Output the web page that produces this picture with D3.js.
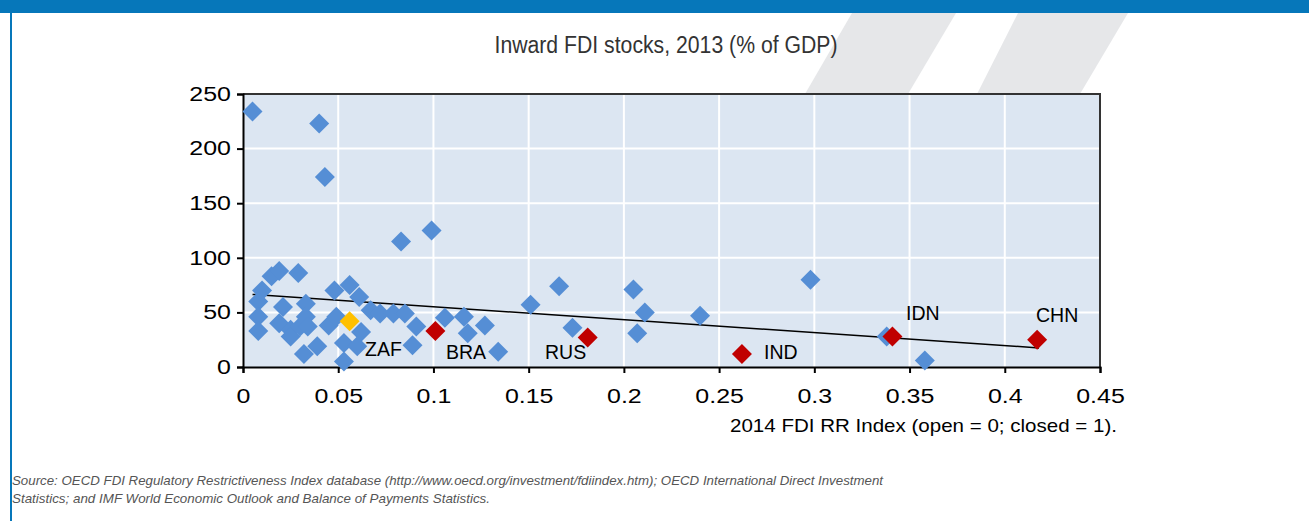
<!DOCTYPE html>
<html>
<head>
<meta charset="utf-8">
<script src="https://cdn.jsdelivr.net/npm/d3@7"></script>
<style>
  html, body { margin: 0; padding: 0; background: #fff; }
  svg { display: block; }
</style>
</head>
<body>
<div id="chart"></div>
<script>
// ── Inward FDI stocks vs FDI restrictiveness ──

// 2014 FDI RR index (x) and inward FDI stock, % of GDP (y)
const otherCountries = [
  [0.005, 234], [0.040, 223], [0.043, 174], [0.083, 115], [0.099, 125],
  [0.015, 83], [0.019, 88], [0.029, 86], [0.010, 70],
  [0.008, 60], [0.008, 46], [0.008, 33],
  [0.021, 55], [0.019, 40], [0.025, 34], [0.025, 28], [0.030, 37],
  [0.033, 58], [0.033, 46], [0.034, 37], [0.032, 12], [0.039, 19],
  [0.045, 38], [0.049, 46], [0.048, 70], [0.056, 75], [0.061, 64],
  [0.062, 32], [0.053, 22], [0.060, 19], [0.053, 5],
  [0.067, 52], [0.072, 49], [0.079, 49], [0.085, 49], [0.091, 37], [0.089, 20],
  [0.106, 45], [0.116, 46], [0.118, 31], [0.127, 38], [0.134, 14],
  [0.151, 57], [0.166, 74], [0.173, 36], [0.205, 71], [0.211, 50], [0.207, 31],
  [0.240, 47], [0.298, 80], [0.338, 28], [0.358, 6],
]

const brics = [
  { code: 'BRA', x: 0.101, y: 33 },
  { code: 'RUS', x: 0.181, y: 27 },
  { code: 'IND', x: 0.262, y: 12 },
  { code: 'IDN', x: 0.341, y: 28 },
  { code: 'CHN', x: 0.417, y: 25 },
]
const southAfrica = { code: 'ZAF', x: 0.056, y: 42 }

// fitted trend line, end points
const trend = [[0.005, 66.5], [0.418, 17.5]]

const xTicks = [0, 0.05, 0.1, 0.15, 0.2, 0.25, 0.3, 0.35, 0.4, 0.45]
const xTickLabels = ['0', '0.05', '0.1', '0.15', '0.2', '0.25', '0.3', '0.35', '0.4', '0.45']
const yTicks = [0, 50, 100, 150, 200, 250]

const title = 'Inward FDI stocks, 2013 (% of GDP)'
const xTitle = '2014 FDI RR Index (open = 0; closed = 1).'
const source = [
  'Source: OECD FDI Regulatory Restrictiveness Index database (http://www.oecd.org/investment/fdiindex.htm); OECD International Direct Investment',
  'Statistics; and IMF World Economic Outlook and Balance of Payments Statistics.',
]

const width = 1309, height = 521
const plot = { left: 243, right: 1100, top: 94, bottom: 367 }
const blue = '#0677BA'
const font = '"Liberation Sans", Arial, sans-serif'
const narrow = '"Liberation Sans Narrow", "Liberation Sans", sans-serif'

const svg = d3.select('#chart').append('svg')
  .attr('width', width)
  .attr('height', height)

// frame: top band and left rule
svg.append('rect').attr('x', 0).attr('y', 0).attr('width', width).attr('height', 13).attr('fill', blue)
svg.append('rect').attr('x', 10).attr('y', 0).attr('width', 2).attr('height', height).attr('fill', blue)

// decorative slanted stripes behind the title
const stripes = [
  [[852, 13], [956, 13], [908, 94], [805, 94]],
  [[1018, 13], [1128, 13], [1080, 94], [977, 94]],
]
svg.selectAll('polygon.stripe')
  .data(stripes)
  .join('polygon')
  .attr('class', 'stripe')
  .attr('points', d => d.map(p => p.join(',')).join(' '))
  .attr('fill', '#E6E7E9')

svg.append('text')
  .attr('x', 666)
  .attr('y', 53)
  .attr('text-anchor', 'middle')
  .attr('font-family', narrow)
  .attr('font-size', 23)
  .attr('fill', '#333')
  .attr('textLength', 343)
  .attr('lengthAdjust', 'spacingAndGlyphs')
  .text(title)

const x = d3.scaleLinear().domain([0, 0.45]).range([plot.left, plot.right])
const y = d3.scaleLinear().domain([0, 250]).range([plot.bottom, plot.top])

svg.append('rect')
  .attr('x', plot.left).attr('y', plot.top)
  .attr('width', plot.right - plot.left).attr('height', plot.bottom - plot.top)
  .attr('fill', '#DCE6F2')

// gridlines
svg.append('g').selectAll('line')
  .data(xTicks.slice(1, -1))
  .join('line')
  .attr('x1', d => x(d)).attr('x2', d => x(d))
  .attr('y1', plot.top).attr('y2', plot.bottom)
  .attr('stroke', '#fff').attr('stroke-width', 2)
svg.append('g').selectAll('line')
  .data(yTicks.slice(1, -1))
  .join('line')
  .attr('y1', d => y(d)).attr('y2', d => y(d))
  .attr('x1', plot.left).attr('x2', plot.right)
  .attr('stroke', '#fff').attr('stroke-width', 2)

// top and right border
svg.append('path')
  .attr('d', `M${plot.left},${plot.top}H${plot.right}V${plot.bottom}`)
  .attr('fill', 'none').attr('stroke', '#333').attr('stroke-width', 2)

// axes
const yAxis = svg.append('g')
  .attr('transform', `translate(${plot.left},0)`)
  .call(d3.axisLeft(y).tickValues(yTicks).tickSize(6).tickPadding(6))
const xAxis = svg.append('g')
  .attr('transform', `translate(0,${plot.bottom})`)
  .call(d3.axisBottom(x).tickValues(xTicks).tickFormat((d, i) => xTickLabels[i]).tickSize(6).tickPadding(16))

for (const ax of [xAxis, yAxis]) {
  ax.select('.domain').attr('stroke', '#000').attr('stroke-width', 2)
  ax.selectAll('.tick line').attr('stroke', '#000').attr('stroke-width', 2)
  ax.selectAll('.tick text')
    .attr('font-family', font)
    .attr('font-size', 19.5)
    .attr('fill', '#000')
  ax.attr('font-family', null).attr('font-size', null)
}
// the tick labels are drawn wide in the original
svg.selectAll('.tick text').each(function () {
  const w = this.getComputedTextLength()
  this.setAttribute('textLength', w * 1.28)
  this.setAttribute('lengthAdjust', 'spacingAndGlyphs')
})

svg.append('text')
  .attr('x', 1117)
  .attr('y', 432)
  .attr('text-anchor', 'end')
  .attr('font-family', font)
  .attr('font-size', 19)
  .attr('fill', '#000')
  .attr('textLength', 387)
  .attr('lengthAdjust', 'spacingAndGlyphs')
  .text(xTitle)

// trend line
svg.append('line')
  .attr('x1', x(trend[0][0])).attr('y1', y(trend[0][1]))
  .attr('x2', x(trend[1][0])).attr('y2', y(trend[1][1]))
  .attr('stroke', '#000').attr('stroke-width', 1.5)

const diamond = 'M0,-10L10,0L0,10L-10,0Z'

svg.append('g').selectAll('path')
  .data(otherCountries)
  .join('path')
  .attr('d', diamond)
  .attr('transform', d => `translate(${x(d[0])},${y(d[1])})`)
  .attr('fill', '#558ED5')

svg.append('path')
  .attr('d', diamond)
  .attr('transform', `translate(${x(southAfrica.x)},${y(southAfrica.y)})`)
  .attr('fill', '#FFC000')

svg.append('g').selectAll('path')
  .data(brics)
  .join('path')
  .attr('d', diamond)
  .attr('transform', d => `translate(${x(d.x)},${y(d.y)})`)
  .attr('fill', '#C00000')

// country labels
const labelPos = {
  ZAF: [365, 356], BRA: [446, 359], RUS: [545, 359], IND: [764, 359], IDN: [906, 320], CHN: [1036, 322],
}
svg.append('g').selectAll('text')
  .data([southAfrica, ...brics])
  .join('text')
  .attr('x', d => labelPos[d.code][0])
  .attr('y', d => labelPos[d.code][1])
  .attr('font-family', font)
  .attr('font-size', 19.5)
  .attr('fill', '#000')
  .text(d => d.code)

// source note
svg.append('g').selectAll('text')
  .data(source)
  .join('text')
  .attr('x', 12)
  .attr('y', (d, i) => 485 + i * 18)
  .attr('font-family', narrow)
  .attr('font-style', 'italic')
  .attr('font-size', 13)
  .attr('fill', '#555')
  .attr('textLength', (d, i) => i === 0 ? 871 : 478)
  .attr('lengthAdjust', 'spacingAndGlyphs')
  .text(d => d)
</script>
</body>
</html>
